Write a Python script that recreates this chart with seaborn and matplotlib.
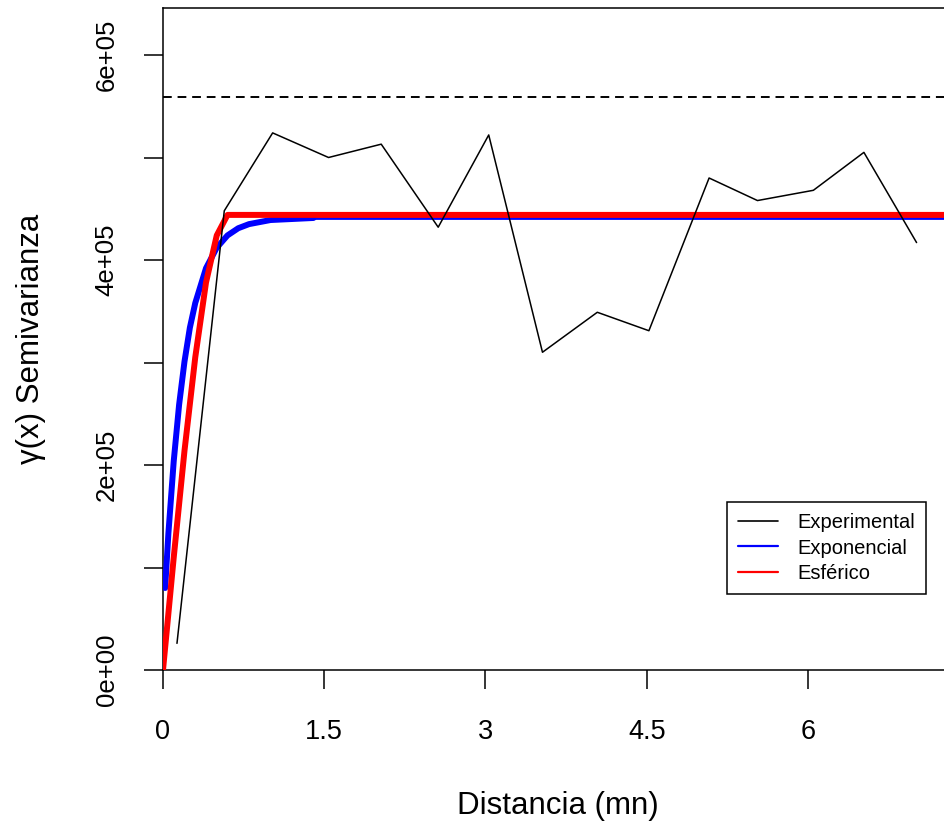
import numpy as np
import pandas as pd
import matplotlib
matplotlib.use("Agg")
import matplotlib.pyplot as plt
from matplotlib.lines import Line2D
import seaborn as sns

# ---- data ----
exp_dist = [0.13, 0.57, 1.02, 1.54, 2.03, 2.56, 3.03, 3.53, 4.04, 4.52, 5.08, 5.53, 6.05, 6.52, 7.01]
exp_gamma = [2.6e4, 4.48e5, 5.24e5, 5.00e5, 5.13e5, 4.32e5, 5.22e5, 3.10e5, 3.49e5, 3.31e5,
             4.80e5, 4.58e5, 4.68e5, 5.05e5, 4.17e5]

expo_dist = [0.02, 0.05, 0.10, 0.15, 0.20, 0.25, 0.30, 0.40, 0.50, 0.60, 0.70, 0.80, 1.00, 1.20, 1.40]
expo_gamma = [0.80e5, 1.33e5, 2.04e5, 2.59e5, 3.01e5, 3.34e5, 3.58e5, 3.92e5, 4.12e5, 4.24e5,
              4.31e5, 4.35e5, 4.39e5, 4.40e5, 4.41e5]
expo_tail_dist = [1.40, 7.34]
expo_tail_gamma = [4.41e5, 4.41e5]

sph_dist = [0.0, 0.1, 0.2, 0.3, 0.4, 0.5, 0.6, 7.34]
sph_gamma = [0.0, 1.10e5, 2.14e5, 3.05e5, 3.78e5, 4.24e5, 4.44e5, 4.44e5]

variance_line = 5.59e5

x_ticks = [0, 1.5, 3, 4.5, 6]
x_tick_labels = ["0", "1.5", "3", "4.5", "6"]
y_ticks = [0, 1e5, 2e5, 3e5, 4e5, 5e5, 6e5]
y_tick_labels = ["0e+00", "", "2e+05", "", "4e+05", "", "6e+05"]

legend_labels = ["Experimental", "Exponencial", "Esférico"]
legend_colors = ["black", "blue", "red"]

# ---- plotting ----
sns.set_style("white")
plt.rcParams['font.family'] = ['Liberation Sans', 'DejaVu Sans']
plt.rcParams['text.color'] = 'black'
plt.rcParams['axes.labelcolor'] = 'black'

W, H = 945, 823
fig = plt.figure(figsize=(W / 100, H / 100), dpi=100)
x0, x1 = 163, 952
ytop, ybot = 8, 670
ax = fig.add_axes([x0 / W, (H - ybot) / H, (x1 - x0) / W, (ybot - ytop) / H])

px_per_unit_x = 107.5
px_per_unit_y = 102.5 / 1e5
ax.set_xlim(0, (x1 - x0) / px_per_unit_x)
ax.set_ylim(0, (ybot - ytop) / px_per_unit_y)

df_exp = pd.DataFrame({"d": exp_dist, "g": exp_gamma})
df_expo = pd.DataFrame({"d": expo_dist, "g": expo_gamma})
df_tail = pd.DataFrame({"d": expo_tail_dist, "g": expo_tail_gamma})
df_sph = pd.DataFrame({"d": sph_dist, "g": sph_gamma})

sns.lineplot(data=df_tail, x="d", y="g", ax=ax, color="blue", linewidth=2.0, sort=False, zorder=2)
sns.lineplot(data=df_expo, x="d", y="g", ax=ax, color="blue", linewidth=4.3, sort=False, zorder=3)
sns.lineplot(data=df_sph, x="d", y="g", ax=ax, color="red", linewidth=4.3, sort=False, zorder=4)
sns.lineplot(data=df_exp, x="d", y="g", ax=ax, color="black", linewidth=1.1, sort=False, zorder=5)
ax.axhline(variance_line, color="black", linewidth=1.4, dashes=(4.5, 3.0), zorder=1)

ax.set_xticks(x_ticks)
ax.set_xticklabels(x_tick_labels)
ax.set_yticks(y_ticks)
ax.set_yticklabels(y_tick_labels, rotation=90, va="center")

ax.tick_params(axis="x", direction="out", length=13.5, width=1.1, pad=22, labelsize=19.5,
               colors="black", labelcolor="black")
ax.tick_params(axis="y", direction="out", length=13.5, width=1.1, pad=18.5, labelsize=18.5,
               colors="black", labelcolor="black")
ax.tick_params(left=True, bottom=True)

for side in ["left", "top", "bottom", "right"]:
    ax.spines[side].set_color("black")
    ax.spines[side].set_linewidth(1.1)
    ax.spines[side].set_visible(True)

ax.set_xlabel("Distancia (mn)", fontsize=22.5, labelpad=33, color="black")
ax.set_ylabel("γ(x) Semivarianza", fontsize=22.5, labelpad=35, color="black")

handles = [Line2D([0], [0], color=c, linewidth=1.2 if c == "black" else 1.6) for c in legend_colors]
leg = ax.legend(handles, legend_labels, loc="upper left",
                bbox_to_anchor=(727 / W, (H - 502) / H), bbox_transform=fig.transFigure,
                borderaxespad=0, fancybox=False, frameon=True, edgecolor="black",
                fontsize=14.5, handlelength=2.0, handletextpad=0.95, labelspacing=0.32,
                borderpad=0.55)
leg.get_frame().set_linewidth(1.1)
leg.get_frame().set_alpha(1)
for t in leg.get_texts():
    t.set_color("black")

fig.savefig("out.png", dpi=100)
